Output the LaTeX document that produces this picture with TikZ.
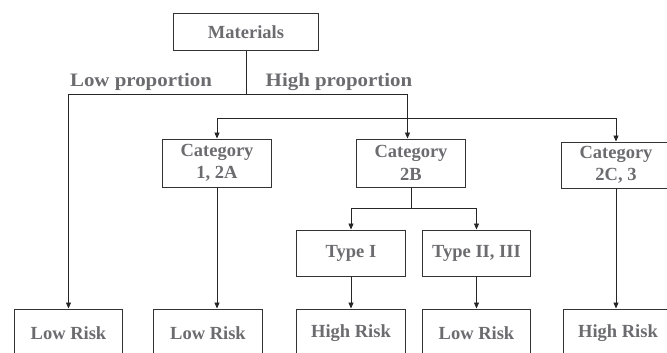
\documentclass[tikz,border=0pt]{standalone}
\usepackage{fontspec}
\setmainfont{Liberation Serif}
\usetikzlibrary{arrows.meta, positioning}
\definecolor{txtgray}{RGB}{108,108,112}

\begin{document}
\begin{tikzpicture}[
    x=1pt, y=1pt,
    box/.style={draw=black!80, line width=0.9pt, text=txtgray, font=\fontsize{18.5}{22.5}\selectfont\bfseries,
        minimum width=108.5pt, minimum height=48pt, align=center, inner sep=0pt},
    branch/.style={text=txtgray, font=\fontsize{19}{22}\selectfont\bfseries, xscale=1.1, transform shape, inner sep=0pt},
    link/.style={draw=black!85, line width=0.9pt},
    arrow/.style={link, -{Triangle[length=6pt, width=5pt]}}
]
    \useasboundingbox (0,0) rectangle (667,353);

    \node[box, minimum width=145.5pt, minimum height=37.5pt] (mat) at (246,321) {Materials};
    \coordinate (split) at (246,258.7);
    \coordinate (lowturn) at (68.5,258.7);
    \coordinate (highturn) at (407.5,258.7);
    \coordinate (catsplit) at (407.5,235);

    \node[branch] (lowlab) at (141,271) {Low proportion};
    \node[branch] (highlab) at (339,271) {High proportion};

    \node[box] (cat1) at (217,190) {Category\\1, 2A};
    \node[box] (cat2b) at (411,190) {Category\\2B};
    \node[box, minimum height=46pt] (cat2c) at (616,188) {Category\\2C, 3};

    \coordinate (typesplit) at (411,144.3);
    \node[box, minimum height=46pt] (type1) at (351,100) {Type I};
    \node[box, minimum height=46pt] (type2) at (476.5,100) {Type II, III};

    \node[box] (risk1) at (68.5,20) {Low Risk};
    \node[box] (risk2) at (208,20) {Low Risk};
    \node[box] (risk3) at (351,20) {High Risk};
    \node[box] (risk4) at (476.5,20) {Low Risk};
    \node[box] (risk5) at (618,20) {High Risk};

    % top split
    \draw[link] (mat) -- (split);
    \draw[link] (lowturn) -- (highturn);
    \draw[arrow] (lowturn) -- (risk1);
    \draw[link] (highturn) -- (catsplit);

    % categories
    \draw[link] (catsplit -| cat1) -- (catsplit -| cat2c);
    \draw[arrow] (catsplit -| cat1) -- (cat1);
    \draw[arrow] (catsplit) -- (catsplit |- cat2b.north);
    \draw[arrow] (catsplit -| cat2c) -- (cat2c);

    % types under 2B
    \draw[link] (cat2b) -- (typesplit);
    \draw[link] (typesplit -| type1) -- (typesplit -| type2);
    \draw[arrow] (typesplit -| type1) -- (type1);
    \draw[arrow] (typesplit -| type2) -- (type2);

    % risks
    \draw[arrow] (cat1) -- (cat1 |- risk2.north);
    \draw[arrow] (type1) -- (risk3);
    \draw[arrow] (type2) -- (risk4);
    \draw[arrow] (cat2c) -- (cat2c |- risk5.north);
\end{tikzpicture}
\end{document}
